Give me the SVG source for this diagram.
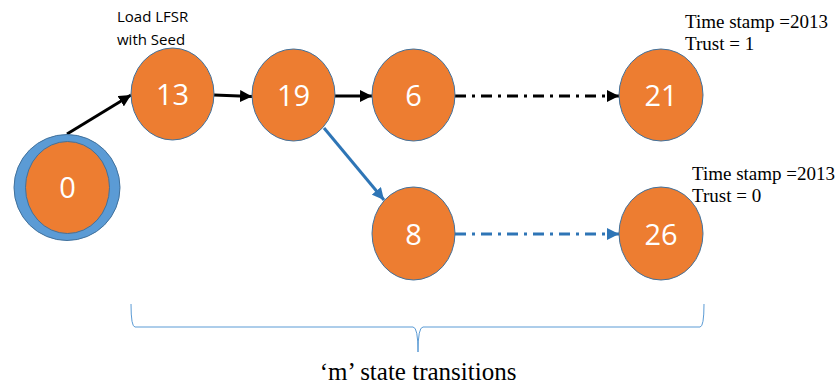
<svg xmlns="http://www.w3.org/2000/svg" width="837" height="385" viewBox="0 0 837 385">
<style>
.st{fill:#ED7D31;stroke:#41719C;stroke-width:1}
.num{font-family:"Open Sans","Liberation Sans",Arial,sans-serif;font-size:29px;fill:#fff;text-anchor:middle}
.lbl{font-family:"Open Sans","Liberation Sans",Arial,sans-serif;font-size:15px;fill:#000}
.tm{font-family:"Liberation Serif","Times New Roman",serif;font-size:19px;fill:#000}
.blk{stroke:#000;stroke-width:3;fill:none}
.blu{stroke:#2E75B6;stroke-width:3;fill:none}
.dd{stroke-dasharray:11 6 3 6}
</style>
<defs>
<marker id="ab" viewBox="0 0 10 10" refX="10" refY="5" markerWidth="4" markerHeight="4" orient="auto" markerUnits="strokeWidth"><path d="M0,0 L10,5 L0,10 z" fill="#000"/></marker>
<marker id="au" viewBox="0 0 10 10" refX="10" refY="5" markerWidth="4" markerHeight="4" orient="auto" markerUnits="strokeWidth"><path d="M0,0 L10,5 L0,10 z" fill="#2E75B6"/></marker>
</defs>
<g id="connectors">
<line class="blk" x1="67" y1="134" x2="131" y2="95" marker-end="url(#ab)"/>
<line class="blk" x1="214" y1="95" x2="252" y2="96.5" marker-end="url(#ab)"/>
<line class="blk" x1="335" y1="96" x2="372" y2="96" marker-end="url(#ab)"/>
<line class="blu" x1="324" y1="128" x2="384" y2="200" marker-end="url(#au)"/>
<line class="blk dd" x1="455" y1="96" x2="619" y2="96" marker-end="url(#ab)"/>
<line class="blu dd" x1="455" y1="234" x2="619" y2="234" marker-end="url(#au)"/>
</g>
<g id="n0">
<ellipse cx="67" cy="187.5" rx="53" ry="53" fill="#5B9BD5" stroke="#41719C" stroke-width="1"/>
<ellipse class="st" cx="67.5" cy="187.5" rx="42" ry="46"/>
<text class="num" x="67.5" y="198">0</text>
</g>
<g id="n13">
<ellipse class="st" cx="172.5" cy="94" rx="41.5" ry="46"/>
<text class="num" x="172.5" y="105">13</text>
<text class="lbl" x="117" y="22">Load LFSR</text>
<text class="lbl" x="117" y="45">with Seed</text>
</g>
<g id="n19">
<ellipse class="st" cx="293.5" cy="95" rx="41.5" ry="46"/>
<text class="num" x="293.5" y="106">19</text>
</g>
<g id="n6">
<ellipse class="st" cx="413.5" cy="95" rx="41.5" ry="46"/>
<text class="num" x="413.5" y="106">6</text>
</g>
<g id="n21">
<ellipse class="st" cx="661" cy="95" rx="42" ry="46"/>
<text class="num" x="661" y="106">21</text>
<text class="tm" x="685" y="28">Time stamp =2013</text>
<text class="tm" x="685" y="50">Trust = 1</text>
</g>
<g id="n8">
<ellipse class="st" cx="413.5" cy="233.5" rx="41.5" ry="46.5"/>
<text class="num" x="413.5" y="244.5">8</text>
</g>
<g id="n26">
<ellipse class="st" cx="661" cy="233.5" rx="42" ry="46.5"/>
<text class="num" x="661" y="244.5">26</text>
<text class="tm" x="692" y="180">Time stamp =2013</text>
<text class="tm" x="692" y="202">Trust = 0</text>
</g>
<g id="brace">
<path d="M131,304 Q131,327 135,327 L413,327 Q418,327 418,352 Q418,327 423,327 L700,327 Q704,327 704,304" fill="none" stroke="#5B9BD5" stroke-width="1"/>
<text x="418" y="380" font-family="Liberation Serif,'Times New Roman',serif" font-size="25" text-anchor="middle" fill="#000">‘m’ state transitions</text>
</g>
</svg>
